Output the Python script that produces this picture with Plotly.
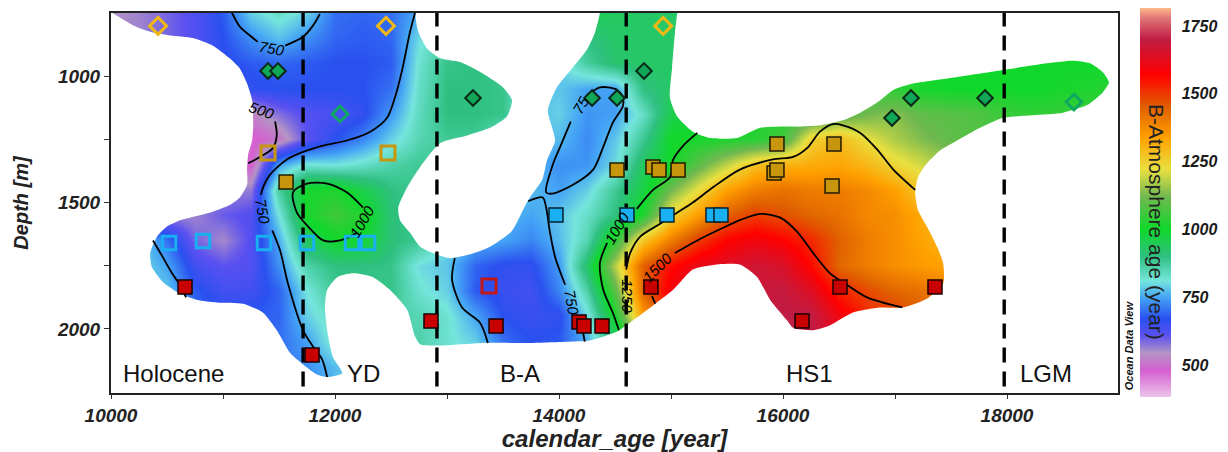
import plotly.graph_objects as go

N = None
ages = [10000 + 250 * i for i in range(37)]
depths = [750 + 100 * i for i in range(16)]

z_750 = [545,560,590,620,680,790,830,790,700,690,700,760,800,N,N,N,N,950,940,930,930,930]
z_850 = [560,560,590,620,670,730,775,730,690,680,690,800,860,N,N,N,N,900,930,930,930,930] + [N]*11 + [1000,1000,1000,1000]
z_950 = [N,N,N,660,660,680,690,680,670,670,680,820,890,900,880,780,790,870,920,930,930,930,N,N,N,N,N,1020,1010,1000,1000,1000,1000,1000,1000,1000,1000]
z_1050 = [N,N,N,640,640,660,670,670,670,670,700,830,900,900,890,780,780,750,745,900,930,930,N,N,N,N,1060,1050,1040,1010,1000,1000,1000,1000,1010,1020,1030]
z_1150 = [N,N,N,540,540,520,580,620,630,660,740,840,900,900,890,770,790,735,745,830,960,980,1000,1020,1030,1040,1080,1120,1140,1100,1090,1080,1050,1040,1050,1050,1050]
z_1250 = [N,N,N,500,490,470,510,610,670,720,790,850,880,880,820,775,770,725,780,880,1000,1010,1020,1030,1060,1250,1290,1220,1170,1130,1100,1080,1060]
z_1350 = [N,N,N,500,490,480,750,820,810,830,860,880,880,880,800,770,730,735,800,940,1000,1100,1190,1280,1310,1320,1330,1300,1240,1200,1150]
z_1450 = [N,N,N,560,560,570,870,1010,1020,960,900,880,880,800,780,770,745,790,880,970,1120,1230,1340,1400,1420,1400,1400,1380,1340,1260,1200]
z_1550 = [N,560,560,560,600,620,810,1010,1060,1020,910,880,870,800,770,750,780,830,900,1020,1245,1350,1450,1495,1470,1440,1420,1380,1370,1320,1300]
z_1650 = [760,800,700,590,555,620,760,940,1000,990,910,880,800,760,750,720,770,850,1040,1270,1400,1500,1570,1600,1570,1520,1450,1400,1370,1330,1300]
z_1750 = [800,800,750,640,610,620,730,860,900,900,890,800,780,690,660,660,740,930,1180,1450,1560,1620,1640,1670,1650,1560,1440,1400,1370,1350,1330]
z_1850 = [N,790,780,680,640,640,690,810,880,890,890,820,790,680,650,640,720,860,1090,1440,1600,1640,1650,1680,1690,1640,1530,1480,1440,1420,1420]
z_1950 = [N,790,780,700,680,680,690,790,840,860,860,850,820,750,670,650,660,800,1010,1350,1500,1600,1650,1680,1700,1700,1600,1520,1500,1450,1420]
z_2050 = [N,N,N,N,690,700,700,745,830,840,850,860,820,790,700,670,680,760,920,1100,N,N,N,1700,1720,1700,1600,1520,1500,1450,1420]
z_2150 = [N,N,N,N,N,N,700,730,770,810]
z_2250 = [N,N,N,N,N,N,700,730,770,810]
z_rows = [z_750,z_850,z_950,z_1050,z_1150,z_1250,z_1350,z_1450,z_1550,z_1650,z_1750,z_1850,z_1950,z_2050,z_2150,z_2250]
z_rows = [r + [None]*(37-len(r)) for r in z_rows]

scale_values = [382,480,545,610,670,750,810,900,1000,1120,1220,1340,1450,1570,1700,1780,1816]
scale_colors = ['#ecc4ec','#d45fd0','#b494c4','#5a50f0','#2a50f0','#45a5f5','#75e5dc','#2fc080','#10d82a','#70b850','#e8e040','#ffa000','#e06000','#ff0000','#c01c44','#e07878','#ffb888']

# outline of the data-free (white) area
outer_mask_age = [9900,10010,10200,10350,10530,10730,10910,11060,11150,11210,11260,11270,11260,11225,11215,11215,11150,11060,10885,10705,10615,10500,10410,10350,10365,10465,10615,10770,10945,11180,11355,11480,11600,11715,11840,11930,12065,11980,11930,11910,11930,12020,12160,12340,12490,12645,12715,12760,12940,13320,13715,14070,14275,14520,14695,14875,15020,15195,15410,15615,15770,15885,16035,16090,16270,16420,16625,16865,17070,17285,17430,17430,17375,17285,17205,17180,17205,17285,17400,17555,17760,17965,18235,18500,18715,18855,18910,18855,18740,18590,18360,18055,17760,17465,17160,16985,16840,16690,16535,16330,16150,16035,15795,15590,15350,15195,15055,14990,15010,15035,15055,15055,19100,19100,9900]
outer_mask_depth = [720,750,800,825,840,850,880,930,970,1025,1095,1195,1255,1310,1370,1430,1480,1510,1540,1560,1570,1595,1635,1700,1755,1815,1860,1885,1895,1900,1935,2005,2095,2140,2180,2190,2175,2110,2005,1915,1845,1795,1780,1795,1845,1925,2030,2060,2065,2055,2055,2050,2045,2010,1955,1895,1845,1765,1745,1745,1795,1885,1965,1995,2005,1985,1935,1915,1915,1880,1820,1740,1675,1595,1530,1460,1400,1345,1295,1255,1205,1165,1155,1145,1115,1065,1025,985,950,940,950,970,990,1010,1030,1055,1105,1145,1175,1195,1200,1200,1205,1245,1245,1220,1160,1085,965,830,750,720,720,2280,2280]
inner_mask_age = [12715,12715,12740,12820,12940,13115,13320,13500,13580,13535,13385,13180,12940,12760,12645,12565,12580,12670,12760,12875,13025,13205,13385,13565,13605,13725,13850,13895,13965,13900,13980,14125,14250,14320,14365,14365]
inner_mask_depth = [720,750,820,890,930,945,990,1045,1095,1160,1205,1235,1265,1360,1440,1520,1570,1620,1675,1700,1720,1705,1675,1620,1595,1490,1410,1330,1255,1135,1045,965,895,830,750,720]

# contour lines: (ages, depths)
contour_segments = [
    ([11080,11150,11240,11310],[750,805,840,865]),
    ([11555,11715,11805,11865],[880,845,800,755]),
    ([12715,12670,12600,12535,12465,12315,12105,11895,11715,11570,11420,11350,11340],[750,825,975,1085,1165,1220,1255,1275,1300,1330,1390,1450,1470]),
    ([11440,11510,11580,11715,11805,11885,11930],[1610,1690,1820,2005,2070,2120,2190]),
    ([11465,11480,11445,11330,11225],[1180,1235,1285,1320,1345]),
    ([12250,12105,11930,11750,11625,11660,11760,11895,12045,12195],[1520,1460,1425,1425,1460,1540,1595,1650,1650,1620]),
    ([10375,10455,10545,10615,10670],[1650,1710,1780,1825,1875]),
    ([13070,13045,13135,13295,13365],[1720,1805,1915,1975,2055]),
    ([13725,13855,13885,13920,13965,14055],[1495,1480,1520,1620,1715,1825]),
    ([14215,14230],[2015,2050]),
    ([14250,14365,14440,14520,14570,14570,14480,14395,14305,14125,13940,13885,13945,14010,14105],[1075,1045,1045,1055,1085,1120,1185,1280,1370,1430,1465,1460,1350,1280,1180]),
    ([15235,15110,15020,14990,14840,14695],[1225,1275,1330,1400,1450,1525]),
    ([14430,14365,14395,14480,14535],[1660,1740,1845,1935,2005]),
    ([17180,16985,16840,16690,16535,16445,16330,16215,16090,15910,15615,15375,15195,15020,14900,14725,14635,14600],[1450,1370,1290,1225,1195,1190,1220,1285,1320,1330,1370,1440,1500,1550,1585,1635,1700,1765]),
    ([15035,15235,15465,15615,15795,15975,16125,16270,16420,16570,16750,17065],[1700,1650,1600,1570,1545,1560,1615,1700,1780,1825,1875,1915]),
    ([14830,14860],[1870,1900]),
]
contour_label_text = ['750','500','750','1000','750','75','1000','1250','1500']
contour_label_age = [11440,11350,11355,12240,14115,14190,14520,14615,14875]
contour_label_depth = [893,1135,1535,1575,1895,1115,1600,1870,1755]
contour_label_angle = [10,20,80,-60,80,-60,-60,90,-45]

period_boundaries = [11715,12910,14600,17975]
period_names = ['Holocene','YD','B-A','HS1','LGM']
period_label_age = [10560,12250,13650,16240,18350]
period_label_depth = [2174,2174,2174,2174,2174]

open_yellow_d_age = [10420,12455,14930]; open_yellow_d_depth = [802,802,802]
green_d_age = [11402,11491,13232,14295,14518,14759,16973,17143,17804]
green_d_depth = [980,980,1087,1087,1087,980,1166,1087,1087]
open_green_d_age = [12045,18598]; open_green_d_depth = [1150,1103]
open_ochre_s_age = [11402,12473]; open_ochre_s_depth = [1304,1304]
ochre_s_age = [11563,14518,14839,14893,15063,15946,15920,15946,16455,16438]
ochre_s_depth = [1419,1372,1360,1372,1372,1269,1383,1372,1269,1435]
cyan_s_age = [13973,14607,14964,15375,15446]; cyan_s_depth = [1549,1549,1549,1549,1549]
open_cyan_s_age = [10518,10821,11366,11750,12152,12295]
open_cyan_s_depth = [1660,1652,1660,1660,1660,1660]
red_s_age = [10661,11795,12857,13438,14179,14223,14384,14821,16509,17357,16170]
red_s_depth = [1834,2103,1968,1988,1972,1988,1988,1834,1834,1834,1968]
open_red_s_age = [13375]; open_red_s_depth = [1830]

BI = 'Liberation Sans'
fig = go.Figure()
zmin, zmax = scale_values[0], scale_values[-1]
fig.add_trace(go.Heatmap(
    x=ages, y=depths, z=z_rows, zsmooth='best', zmin=zmin, zmax=zmax, hoverongaps=False,
    colorscale=[[(v-zmin)/(zmax-zmin), c] for v, c in zip(scale_values, scale_colors)],
    colorbar=dict(x=1.0218, xanchor='left', xpad=0, y=0.501, yanchor='middle', ypad=0,
                  thickness=31, thicknessmode='pixels', len=389, lenmode='pixels', outlinewidth=0,
                  tickvals=[500,750,1000,1250,1500,1750], ticks='outside', ticklen=8, tickcolor='rgba(0,0,0,0)',
                  tickfont=dict(family=BI, size=16, color='#1a1a1a', weight='bold', style='italic')),
))
for ax, ay in ((outer_mask_age, outer_mask_depth), (inner_mask_age, inner_mask_depth)):
    fig.add_trace(go.Scatter(x=ax, y=ay, mode='lines', fill='toself', fillcolor='white',
                             line=dict(width=0, color='white', shape='spline', smoothing=0.6), hoverinfo='skip'))
for ax, ay in contour_segments:
    fig.add_trace(go.Scatter(x=ax, y=ay, mode='lines', line=dict(color='black', width=1.8, shape='spline', smoothing=0.8), hoverinfo='skip'))
for b in period_boundaries:
    fig.add_trace(go.Scatter(x=[b, b], y=[745, 2253], mode='lines', cliponaxis=False,
                             line=dict(color='black', width=3.4, dash='15px,9px'), hoverinfo='skip'))

def markers(ax, ay, symbol, size, fill, edge, lw):
    fig.add_trace(go.Scatter(x=ax, y=ay, mode='markers', cliponaxis=False,
                             marker=dict(symbol=symbol, size=size, color=fill, line=dict(color=edge, width=lw))))

clear = 'rgba(0,0,0,0)'
markers(open_yellow_d_age, open_yellow_d_depth, 'diamond', 13, clear, '#f0b814', 3)
markers(green_d_age, green_d_depth, 'diamond', 12, '#10a858', '#0a2a18', 2)
markers(open_green_d_age, open_green_d_depth, 'diamond', 12, clear, '#10a860', 3)
markers(open_ochre_s_age, open_ochre_s_depth, 'square', 14, clear, '#c8960c', 3)
markers(ochre_s_age, ochre_s_depth, 'square', 14, '#c8960c', '#221a00', 1.5)
markers(cyan_s_age, cyan_s_depth, 'square', 14, '#18b0f0', '#06222e', 1.5)
markers(open_cyan_s_age, open_cyan_s_depth, 'square', 13.5, clear, '#18b0f0', 3)
markers(red_s_age, red_s_depth, 'square', 14, '#c80000', '#1a0000', 1.5)
markers(open_red_s_age, open_red_s_depth, 'square', 14, clear, '#c01818', 3)

annotations = []
for t, a, d, ang in zip(contour_label_text, contour_label_age, contour_label_depth, contour_label_angle):
    annotations.append(dict(x=a, y=d, text=t, textangle=ang, showarrow=False,
                            font=dict(family=BI, size=15, color='black', style='italic')))
for t, a, d in zip(period_names, period_label_age, period_label_depth):
    annotations.append(dict(x=a, y=d, text=t, showarrow=False, font=dict(family=BI, size=24, color='#111')))
annotations.append(dict(xref='paper', yref='paper', x=1.0387, y=0.45, text='B-Atmosphere age (year)', textangle=90,
                        xanchor='center', yanchor='middle', showarrow=False, font=dict(family=BI, size=21, color='#222')))
annotations.append(dict(xref='paper', yref='paper', x=1.011, y=0.126, text='Ocean Data View', textangle=-90,
                        xanchor='center', yanchor='middle', showarrow=False, font=dict(family=BI, size=11, color='#111', weight='bold', style='italic')))

tick_font = dict(family=BI, size=19, color='#222', weight='bold', style='italic')
title_font = dict(family=BI, size=24, color='#222', weight='bold', style='italic')
fig.update_layout(
    width=1228, height=452, margin=dict(l=111, r=110, t=13, b=59, autoexpand=False), autosize=False,
    paper_bgcolor='white', plot_bgcolor='white', showlegend=False, annotations=annotations,
    xaxis=dict(range=[10000, 18991], tickvals=list(range(10000, 19000, 1000)),
               ticktext=['10000','','12000','','14000','','16000','','18000'],
               ticks='outside', ticklen=4, tickcolor='#333', showgrid=False, zeroline=False,
               showline=True, mirror=True, linecolor='#222', linewidth=2, tickfont=tick_font,
               title=dict(text='calendar_age [year]', font=title_font, standoff=0)),
    yaxis=dict(range=[2253, 751], tickvals=[1000,1250,1500,1750,2000], ticktext=['1000','','1500','','2000'],
               ticks='outside', ticklen=5, tickcolor='#333', showgrid=False, zeroline=False,
               showline=True, mirror=True, linecolor='#222', linewidth=2, tickfont=tick_font,
               title=dict(text='Depth [m]', font=dict(family=BI, size=20, color='#222', weight='bold', style='italic'), standoff=23)),
)
fig.write_html("out.html", config={'displayModeBar': False},
               post_script="document.body.style.margin='0';document.body.style.overflow='hidden';")
